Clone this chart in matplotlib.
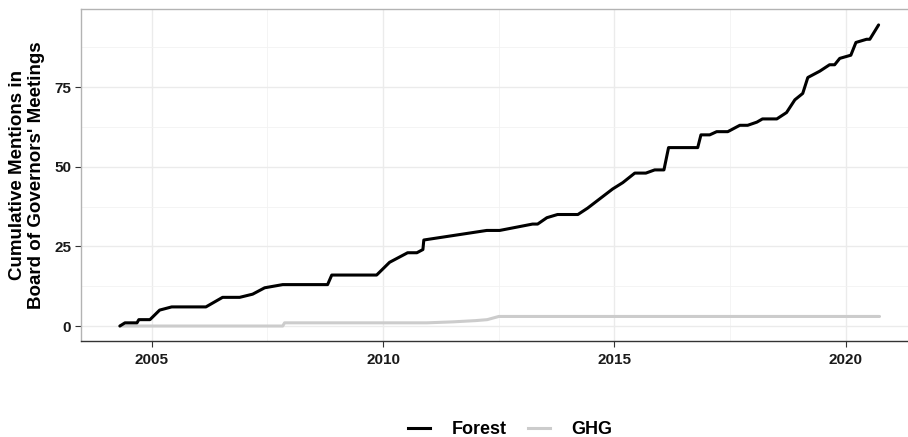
import matplotlib
matplotlib.use('Agg')
import matplotlib.pyplot as plt
from matplotlib.lines import Line2D
from matplotlib.ticker import MultipleLocator

plt.rcParams['font.family'] = ['Liberation Sans', 'DejaVu Sans']

# cumulative mentions
forest_year = [2004.31, 2004.42, 2004.68, 2004.72, 2004.96, 2005.17, 2005.43, 2006.17,
               2006.53, 2006.90, 2007.18, 2007.44, 2007.83, 2008.80, 2008.89, 2009.86,
               2010.14, 2010.53, 2010.73, 2010.86, 2010.88, 2012.24, 2012.52, 2013.23,
               2013.34, 2013.54, 2013.77, 2014.21, 2014.42, 2014.96, 2015.18, 2015.44,
               2015.68, 2015.87, 2016.07, 2016.17, 2016.80, 2016.87, 2017.06, 2017.21,
               2017.45, 2017.71, 2017.88, 2018.08, 2018.20, 2018.51, 2018.72, 2018.90,
               2019.07, 2019.18, 2019.44, 2019.65, 2019.76, 2019.87, 2020.11, 2020.22,
               2020.45, 2020.52, 2020.71]
forest_count = [0, 1, 1, 2, 2, 5, 6, 6,
                9, 9, 10, 12, 13, 13, 16, 16,
                20, 23, 23, 24, 27, 30, 30, 32,
                32, 34, 35, 35, 37, 43, 45, 48,
                48, 49, 49, 56, 56, 60, 60, 61,
                61, 63, 63, 64, 65, 65, 67, 71,
                73, 78, 80, 82, 82, 84, 85, 89,
                90, 90, 94.5]

ghg_year = [2004.31, 2007.83, 2007.87, 2010.94, 2011.5, 2012.0, 2012.25, 2012.5, 2020.73]
ghg_count = [0, 0, 1, 1, 1.3, 1.7, 2, 3, 3]

series_names = ['Forest', 'GHG']
series_colors = ['#000000', '#cccccc']
y_label = "Cumulative Mentions in\nBoard of Governors' Meetings"

fig = plt.figure(figsize=(9.08, 4.37), dpi=100)
ax = fig.add_axes([81 / 908, 1 - 341 / 437, 836 / 908, 332 / 437])

ax.plot(forest_year, forest_count, color=series_colors[0], lw=2.2,
        solid_joinstyle='round', solid_capstyle='round', zorder=3)
ax.plot(ghg_year, ghg_count, color=series_colors[1], lw=2.2,
        solid_joinstyle='round', solid_capstyle='round', zorder=2)

ax.set_xlim(2003.47, 2021.54)
ax.set_ylim(-4.7, 99.5)
ax.xaxis.set_major_locator(MultipleLocator(5))
ax.xaxis.set_minor_locator(MultipleLocator(2.5))
ax.yaxis.set_major_locator(MultipleLocator(25))
ax.yaxis.set_minor_locator(MultipleLocator(12.5))

ax.grid(which='major', color='#ebebeb', lw=1.0)
ax.grid(which='minor', color='#f2f2f2', lw=0.6)
ax.set_axisbelow(True)

for side in ['top', 'right', 'left']:
    ax.spines[side].set_color('#b3b3b3')
    ax.spines[side].set_linewidth(1.0)
ax.spines['bottom'].set_color('#333333')
ax.spines['bottom'].set_linewidth(1.0)

ax.tick_params(which='major', length=4, width=0.8, color='#333333',
               labelsize=11, labelcolor='#1a1a1a', pad=3)
ax.tick_params(axis='x', which='major', pad=5)
ax.tick_params(which='minor', length=0)
for lab in ax.get_xticklabels() + ax.get_yticklabels():
    lab.set_fontweight('bold')

ax.set_ylabel(y_label, fontsize=13.5, fontweight='bold', labelpad=7,
              linespacing=1.15)

handles = [Line2D([], [], color=c, lw=2.2) for c in series_colors]
fig.legend(handles, series_names, loc='lower center', ncol=2,
           bbox_to_anchor=(0.562, -0.04), frameon=False,
           prop={'weight': 'bold', 'size': 13}, handlelength=1.2,
           columnspacing=1.2, handletextpad=1.2)

fig.savefig('out.png', dpi=100)
